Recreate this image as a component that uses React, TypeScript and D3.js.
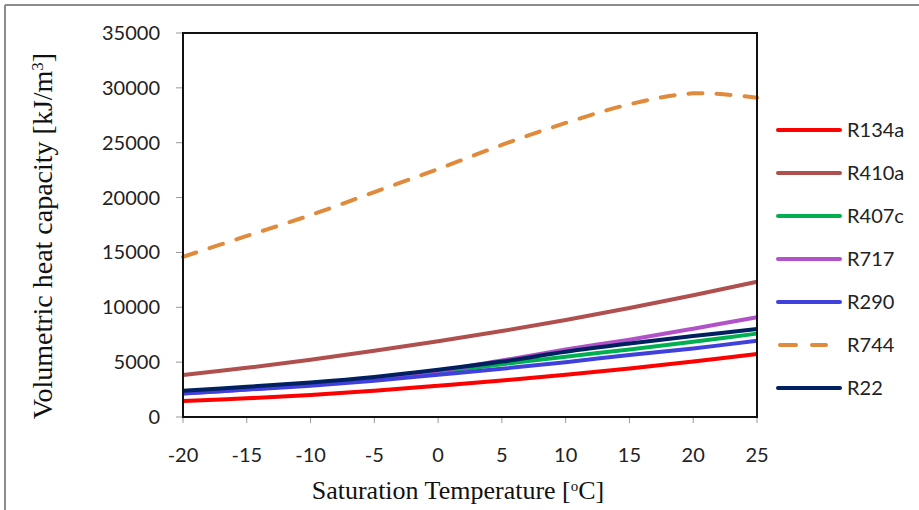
import React from 'react';
import * as d3 from 'd3';

const temps = [-20, -15, -10, -5, 0, 5, 10, 15, 20, 25];

const r134a = [1460, 1700, 2000, 2400, 2850, 3320, 3850, 4430, 5060, 5750];
const r410a = [3830, 4480, 5220, 6030, 6900, 7830, 8840, 9930, 11100, 12330];
const r407c = [2250, 2600, 3000, 3500, 4100, 4800, 5500, 6150, 6850, 7600];
const r717 = [2150, 2500, 2950, 3500, 4200, 5150, 6150, 7050, 8050, 9100];
const r290 = [2150, 2500, 2850, 3300, 3850, 4400, 5000, 5650, 6250, 6950];
const r744 = [14600, 16500, 18400, 20500, 22600, 24800, 26800, 28500, 29500, 29100];
const r22 = [2400, 2750, 3150, 3650, 4300, 5050, 5950, 6700, 7380, 8020];

const seriesNames = ['R134a', 'R410a', 'R407c', 'R717', 'R290', 'R744', 'R22'];
const seriesValues = [r134a, r410a, r407c, r717, r290, r744, r22];
const seriesColors = ['#ff0000', '#b0504e', '#00b050', '#b152c8', '#4040dc', '#e08a3c', '#002060'];

const xTicks = [-20, -15, -10, -5, 0, 5, 10, 15, 20, 25];
const yTicks = [0, 5000, 10000, 15000, 20000, 25000, 30000, 35000];

const W = 919;
const H = 510;
const plot = { left: 183, top: 33, right: 757, bottom: 417 };

export default function App() {
  const x = d3.scaleLinear().domain([-20, 25]).range([plot.left, plot.right]);
  const y = d3.scaleLinear().domain([0, 35000]).range([plot.bottom, plot.top]);

  const line = d3
    .line<number>()
    .x((_, i) => x(temps[i]))
    .y(d => y(d))
    .curve(d3.curveCatmullRom.alpha(0.5));

  const sans = 'Lato, "Open Sans", sans-serif';
  const serif = '"Liberation Serif", "Times New Roman", serif';

  return (
    <svg
      width={W}
      height={H}
      style={{ position: 'absolute', left: 0, top: 0, background: '#fff' }}
    >
      {/* outer chart frame */}
      <line x1={5} y1={5} x2={W} y2={5} stroke="#8c8c8c" strokeWidth={2} />
      <line x1={5} y1={5} x2={5} y2={H} stroke="#8c8c8c" strokeWidth={2} />

      {/* y axis */}
      {yTicks.map(t => (
        <g key={'y' + t}>
          <line x1={plot.left - 7} x2={plot.left} y1={y(t)} y2={y(t)} stroke="#999" strokeWidth={1} />
          <text
            x={160}
            y={y(t)}
            dy="0.35em"
            textAnchor="end"
            fontFamily={sans}
            fontSize={20}
            fill="#222"
          >
            {t}
          </text>
        </g>
      ))}

      {/* x axis */}
      {xTicks.map(t => (
        <g key={'x' + t}>
          <line x1={x(t)} x2={x(t)} y1={plot.bottom} y2={plot.bottom + 6} stroke="#999" strokeWidth={1} />
          <text
            x={x(t)}
            y={455}
            dy="0.35em"
            textAnchor="middle"
            fontFamily={sans}
            fontSize={20}
            fill="#222"
          >
            {t}
          </text>
        </g>
      ))}

      {/* series */}
      {seriesValues.map((vals, i) => (
        <path
          key={seriesNames[i]}
          d={line(vals) || ''}
          fill="none"
          stroke={seriesColors[i]}
          strokeWidth={4}
          strokeLinecap={seriesNames[i] === 'R744' ? 'round' : 'butt'}
          strokeDasharray={seriesNames[i] === 'R744' ? '14 14' : undefined}
        />
      ))}

      {/* plot frame */}
      <rect
        x={plot.left}
        y={plot.top}
        width={plot.right - plot.left}
        height={plot.bottom - plot.top}
        fill="none"
        stroke="#111"
        strokeWidth={2}
      />

      {/* axis titles */}
      <text
        transform={`translate(42,236) rotate(-90)`}
        textAnchor="middle"
        dy="0.35em"
        fontFamily={serif}
        fontSize={28}
        fill="#111"
      >
        Volumetric heat capacity [kJ/m
        <tspan baselineShift="super" fontSize={17}>3</tspan>]
      </text>
      <text
        x={458}
        y={490}
        dy="0.35em"
        textAnchor="middle"
        fontFamily={serif}
        fontSize={26}
        fill="#111"
      >
        Saturation Temperature [
        <tspan baselineShift="super" fontSize={15}>o</tspan>C]
      </text>

      {/* legend */}
      {seriesNames.map((name, i) => {
        const ly = 130 + i * 43;
        const dashed = name === 'R744';
        return (
          <g key={'lg' + name}>
            <line
              x1={dashed ? 780 : 778}
              x2={dashed ? 826 : 840}
              y1={ly}
              y2={ly}
              stroke={seriesColors[i]}
              strokeWidth={4}
              strokeLinecap="round"
              strokeDasharray={dashed ? '16 16' : undefined}
            />
            <text x={847} y={ly} dy="0.35em" fontFamily={sans} fontSize={20} fill="#222">
              {name}
            </text>
          </g>
        );
      })}
    </svg>
  );
}
